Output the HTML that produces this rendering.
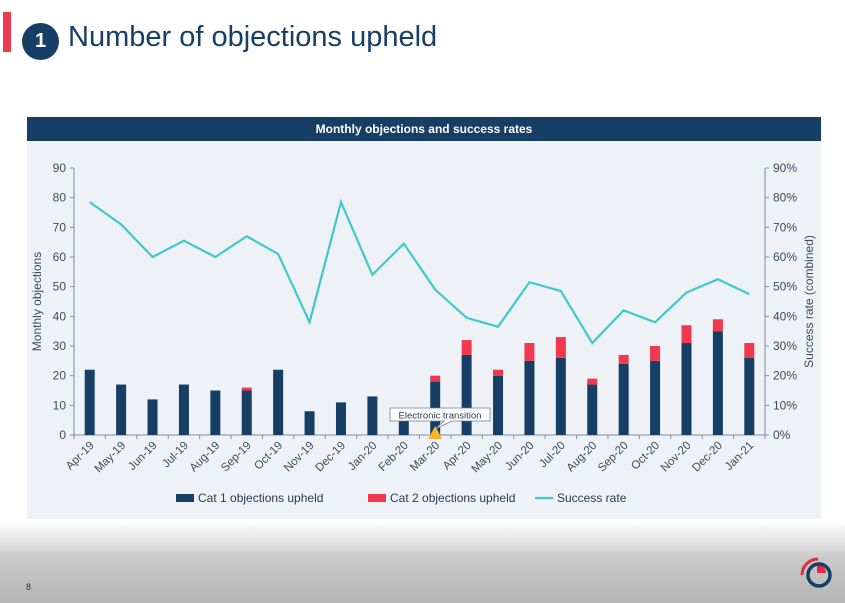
<!DOCTYPE html>
<html><head><meta charset="utf-8"><style>
body{margin:0;width:845px;height:603px;overflow:hidden;background:#fff;font-family:"Liberation Sans",sans-serif;position:relative}
.bottom{position:absolute;left:0;top:522px;width:845px;height:81px;background:linear-gradient(#fff,#c9c9c9 45%,#b5b5b5)}
</style></head><body>
<div class="bottom"></div>
<div style="position:absolute;left:3px;top:12px;width:8px;height:40px;background:#f0384f"></div>
<div style="position:absolute;left:22px;top:23px;width:37px;height:37px;border-radius:50%;background:#173f66;color:#fff;font-weight:bold;font-size:20px;line-height:37px;text-align:center">1</div>
<div style="position:absolute;left:68px;top:21px;font-size:29px;color:#173f66">Number of objections upheld</div>
<div style="position:absolute;left:26px;top:582px;font-size:9px;color:#333">8</div>
<svg style="position:absolute;left:797px;top:553px" width="40" height="40" viewBox="0 0 40 40">
<path d="M5 22 A16 16 0 0 1 21 6" fill="none" stroke="#e4293e" stroke-width="3"/>
<path d="M20 11 L20 20 L29 20 A9 9 0 0 0 20 11Z" fill="#e4293e"/>
<circle cx="22" cy="22" r="11" fill="none" stroke="#173f66" stroke-width="3.5"/>
</svg>
<svg id="chart" style="position:absolute;left:0;top:0" width="845" height="603"></svg>
<script>
const categories=["Apr-19","May-19","Jun-19","Jul-19","Aug-19","Sep-19","Oct-19","Nov-19","Dec-19","Jan-20","Feb-20","Mar-20","Apr-20","May-20","Jun-20","Jul-20","Aug-20","Sep-20","Oct-20","Nov-20","Dec-20","Jan-21"];
const cat1=[22,17,12,17,15,15,22,8,11,13,5,18,27,20,25,26,17,24,25,31,35,26];
const cat2=[0,0,0,0,0,1,0,0,0,0,0,2,5,2,6,7,2,3,5,6,4,5];
const successRate=[78.5,71,60,65.5,60,67,61,38,78.5,54,64.5,49,39.5,36.5,51.5,48.5,31,42,38,48,52.5,47.5];
const leftTicks=[0,10,20,30,40,50,60,70,80,90];
const rightTicks=["0%","10%","20%","30%","40%","50%","60%","70%","80%","90%"];
const NS="http://www.w3.org/2000/svg";
const svg=document.getElementById('chart');
const X0=74,X1=765,Y0=435,Y1=168;
const step=(X1-X0)/categories.length;
const xc=i=>X0+step*(i+0.5);
const yL=v=>Y0-(v/90)*(Y0-Y1);
const yR=v=>Y0-(v/90)*(Y0-Y1);
function mk(tag,at,txt){const e=document.createElementNS(NS,tag);for(const k in at)e.setAttribute(k,at[k]);if(txt!=null)e.textContent=txt;svg.appendChild(e);return e;}
let e;
e=mk('rect',{x:27,y:140,width:794,height:379,fill:"#eef2f6"});


e=mk('rect',{x:27,y:117,width:794,height:24,fill:"#173f66"});


e=mk('text',{x:424,y:133,fill:"#fff","font-size":12,"font-weight":"bold","text-anchor":"middle"},"Monthly objections and success rates");


const ax="#7d8fa3";
e=mk('line',{x1:X0,y1:Y1,x2:X0,y2:Y0,stroke:ax});


e=mk('line',{x1:X1,y1:Y1,x2:X1,y2:Y0,stroke:ax});


e=mk('line',{x1:X0,y1:Y0,x2:X1,y2:Y0,stroke:ax});


leftTicks.forEach(v=>{const y=yL(v);
mk('line',{x1:X0-4,y1:y,x2:X0,y2:y,stroke:ax});
e=mk('text',{x:X0-8,y:y+4,fill:"#3a4c63","font-size":12,"text-anchor":"end"},String(v));

});
rightTicks.forEach((t,i)=>{const y=yR(i*10);
mk('line',{x1:X1,y1:y,x2:X1+4,y2:y,stroke:ax});
e=mk('text',{x:X1+8,y:y+4,fill:"#3a4c63","font-size":12},t);

});
e=mk('text',{x:0,y:0,fill:"#3a4c63","font-size":12,"text-anchor":"middle",transform:`translate(41,${(Y0+Y1)/2}) rotate(-90)`},"Monthly objections");


e=mk('text',{x:0,y:0,fill:"#3a4c63","font-size":12,"text-anchor":"middle",transform:`translate(813,${(Y0+Y1)/2}) rotate(-90)`},"Success rate (combined)");


for(let i=0;i<=categories.length;i++){const x=X0+step*i;mk('line',{x1:x,y1:Y0,x2:x,y2:Y0+4,stroke:ax});}
categories.forEach((c,i)=>{const x=xc(i)+5,y=Y0+11;
e=mk('text',{x:x,y:y,fill:"#3a4c63","font-size":11.5,"text-anchor":"end",transform:`rotate(-45 ${x} ${y})`},c);

});
const bw=10;
categories.forEach((c,i)=>{
e=mk('rect',{x:xc(i)-bw/2,y:yL(cat1[i]),width:bw,height:Y0-yL(cat1[i]),fill:"#173f66"});


if(cat2[i]>0){e=mk('rect',{x:xc(i)-bw/2,y:yL(cat1[i]+cat2[i]),width:bw,height:yL(cat1[i])-yL(cat1[i]+cat2[i]),fill:"#f0384f"});

}
});
e=mk('polyline',{points:successRate.map((v,i)=>xc(i)+","+yR(v)).join(" "),fill:"none",stroke:"#3ec8cf","stroke-width":2.2});


const cx=xc(11);
e=mk('path',{d:`M390 408 H490 V421 H452 L${cx} 429 L444 421 H390 Z`,fill:"#fff",stroke:"#6d7f93","stroke-width":0.8});


e=mk('text',{x:440,y:418.5,fill:"#2a3a50","font-size":9.5,"text-anchor":"middle"},"Electronic transition");


e=mk('path',{d:`M${cx-7} 439 L${cx} 426 L${cx+7} 439 Z`,fill:"#f7b52c"});


e=mk('rect',{x:176,y:494,width:18,height:8,fill:"#173f66"});


e=mk('text',{x:198,y:502,fill:"#2a3a50","font-size":12},"Cat 1 objections upheld");


e=mk('rect',{x:368,y:494,width:18,height:8,fill:"#f0384f"});


e=mk('text',{x:390,y:502,fill:"#2a3a50","font-size":12},"Cat 2 objections upheld");


e=mk('line',{x1:535,y1:498,x2:553,y2:498,stroke:"#3ec8cf","stroke-width":2.2});


e=mk('text',{x:557,y:502,fill:"#2a3a50","font-size":12},"Success rate");


</script>
</body></html>
